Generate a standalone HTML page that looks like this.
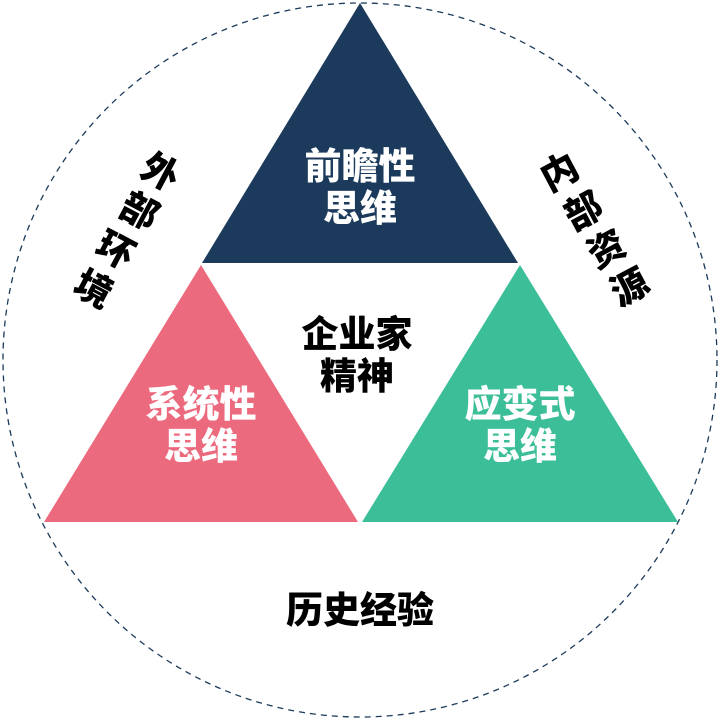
<!DOCTYPE html>
<html><head><meta charset="utf-8"><style>
body{margin:0;width:720px;height:720px;background:#fff;overflow:hidden;position:relative;font-family:"Liberation Sans","Noto Sans CJK SC",sans-serif;font-weight:900}
.t{position:absolute;width:200px;text-align:center;font-size:37px;line-height:42px;transform:translateX(-100px)}
.c{position:absolute;font-size:37px;width:42px;height:42px;line-height:42px;text-align:center;margin:-21px 0 0 -21px}
</style></head><body>
<svg width="720" height="720" style="position:absolute;left:0;top:0">
<circle cx="360" cy="360" r="357" fill="none" stroke="#1b3a5c" stroke-width="1.3" stroke-dasharray="6,5"/>
<polygon points="360,3 518,263 202,263" fill="#1b3a5c"/>
<polygon points="201,265 358,522 44,522" fill="#ec6a7e"/>
<polygon points="520,265 678,522 362,522" fill="#3cbf99"/>
</svg>
<div class="t" style="left:360px;top:146px;color:#fff">前瞻性<br>思维</div>
<div class="t" style="left:357px;top:314px;color:#000">企业家<br>精神</div>
<div class="t" style="left:201px;top:384px;color:#fff">系统性<br>思维</div>
<div class="t" style="left:520px;top:384px;color:#fff">应变式<br>思维</div>
<div class="t" style="left:360px;top:590px;color:#000">历史经验</div>
<div class="c" style="left:160px;top:173px;transform:rotate(28deg)">外</div>
<div class="c" style="left:139px;top:212px;transform:rotate(28deg)">部</div>
<div class="c" style="left:115px;top:251px;transform:rotate(28deg)">环</div>
<div class="c" style="left:93px;top:290px;transform:rotate(28deg)">境</div>
<div class="c" style="left:560px;top:173px;transform:rotate(-28deg)">内</div>
<div class="c" style="left:584px;top:212px;transform:rotate(-28deg)">部</div>
<div class="c" style="left:607px;top:250px;transform:rotate(-28deg)">资</div>
<div class="c" style="left:630px;top:288px;transform:rotate(-28deg)">源</div>
</body></html>
